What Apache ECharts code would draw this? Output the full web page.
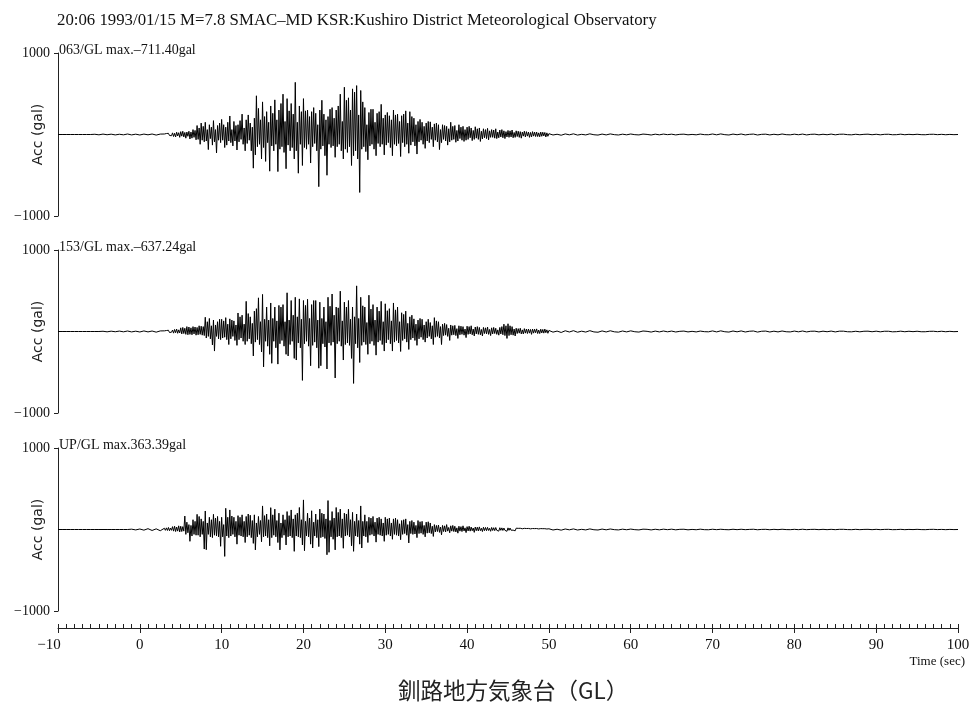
<!DOCTYPE html>
<html><head><meta charset="utf-8">
<script src="https://cdn.jsdelivr.net/npm/echarts@6/dist/echarts.min.js"></script>
<style>html,body{margin:0;padding:0;background:#fff}#c{width:971px;height:704px}</style>
</head><body><div id="c"></div>
<script>
// ---- data (gal) ----
const PRE_START = -10, PRE_STEP = 0.5;     // -10 .. 2.5 s
const MAIN_START = 3, MAIN_STEP = 0.125;   // 3 .. 49.875 s
const TAIL_START = 50, TAIL_STEP = 0.5;    // 50 .. 100 s

const panelTitles = ['063/GL max.\u2013711.40gal', '153/GL max.\u2013637.24gal', 'UP/GL max.363.39gal'];
const yTicks = [-1000, 1000];
const xTickLabels = [-10, 0, 10, 20, 30, 40, 50, 60, 70, 80, 90, 100];

const ch063Pre = [0,0,0,0,0,0,0,0,0,3,-4,5,-3,4,-5,3,-4,6,-5,4,-6,5,-4,6,-7,5];
const ch063Main = [
6,-10,12,-8,14,-12,10,-15,  20,-25,15,-30,28,-18,22,-35,  35,-20,40,-30,25,-45,30,-22,
40,-55,30,-45,60,-35,50,-65,  110,-60,80,-120,140,-70,100,-90,  150,-80,60,-185,120,-50,90,-130,
170,-90,60,-227,110,-70,140,-100,  185,-70,120,-160,90,-130,150,-80,  227,-100,60,-140,160,-80,110,-190,
120,-90,170,-60,250,-120,80,-200,  180,-110,240,-70,140,-200,90,-413,  200,-250,475,-150,320,-120,180,-300,
400,-160,220,-330,280,-100,150,-450,  350,-140,260,-200,425,-120,180,-455,  300,-180,380,-150,495,-220,160,-420,
440,-130,290,-200,380,-160,250,-300,  640,-200,150,-475,350,-120,280,-380,  440,-160,290,-180,300,-120,220,-350,
280,-150,330,-110,260,-200,120,-640,  300,-180,420,-140,250,-260,180,-500,  220,-120,310,-160,330,-140,200,-280,
300,-150,350,-120,495,-200,160,-300,  580,-180,420,-220,450,-150,300,-380,  560,-260,520,-200,600,-300,240,-711,
540,-180,400,-150,330,-210,120,-310,  270,-140,310,-120,310,-180,150,-260,  260,-110,280,-150,370,-120,200,-250,
240,-130,270,-100,230,-160,180,-260,  300,-120,240,-140,250,-110,160,-270,  230,-100,250,-150,290,-120,140,-230,
280,-130,220,-90,200,-140,120,-240,  160,-90,185,-70,150,-120,100,-170,  140,-80,160,-100,155,-60,90,-150,
130,-70,140,-90,120,-185,60,-100,  120,-60,110,-80,100,-130,70,-90,  150,-70,100,-60,110,-95,50,-80,
120,-50,90,-70,100,-85,60,-70,  90,-60,100,-40,80,-75,50,-60,  95,-45,70,-60,80,-85,40,-55,
70,-40,60,-50,75,-65,45,-35,  60,-35,55,-45,70,-50,30,-40,  55,-30,60,-40,45,-50,35,-30,
50,-35,45,-30,55,-40,25,-35,  45,-25,40,-35,35,-45,30,-20,  40,-30,35,-20,30,-35,25,-30,
35,-20,30,-25,30,-25,20,-28,  30,-22,28,-18,25,-30,20,-22];
const ch063Tail = [
10,-6,3,-9,7,-4,8,-7,2,-5,  8,-3,-7,5,-5,7,-2,-6,4,-4,
6,-2,-5,5,1,-6,4,-4,5,-2,  4,-5,2,4,-4,1,-4,5,-2,-3,
6,-4,7,-2,-6,5,-3,6,-5,2,  5,-6,2,4,-5,3,-4,6,-2,-4,
4,-3,5,-5,2,4,-4,3,-3,5,  -4,3,4,-2,-4,3,-3,2,4,-3,
3,-4,2,3,-3,-2,4,-3,2,-2,  3,-2,-3,2,3,-2,2,-3,1,-2, 0];

const ch153Pre = [0,0,0,0,0,0,0,0,0,0,0,3,-4,4,-3,5,-4,6,-5,4,-6,7,-5,6,-8,7];
const ch153Main = [
8,-10,12,-8,15,-12,10,-9,  18,-20,25,-15,30,-22,20,-18,  45,-30,50,-25,40,-35,60,-40,
55,-35,45,-40,60,-30,55,-45,  50,-40,70,-35,65,-45,60,-50,  175,-80,120,-60,160,-90,70,-165,
140,-240,80,-60,120,-90,150,-100,  150,-80,130,-70,170,-100,90,-160,  155,-90,140,-60,130,-110,80,-170,
227,-100,180,-80,200,-120,90,-160,  370,-120,220,-90,180,-150,100,-300,  250,-130,280,-100,413,-160,120,-250,
455,-434,150,-120,300,-180,140,-280,  350,-390,160,-120,300,-200,130,-400,  320,-150,300,-110,330,-180,120,-280,
475,-300,140,-160,380,-120,200,-330,  420,-350,180,-140,400,-200,150,-600,  380,-150,320,-120,395,-180,160,-420,
330,-170,380,-130,380,-200,140,-450,  360,-420,160,-150,300,-190,120,-460,  420,-140,310,-170,460,-130,200,-570,
300,-150,290,-120,495,-180,130,-350,  360,-160,300,-140,380,-170,150,-330,  300,-637,180,-150,560,-200,160,-380,
420,-170,315,-130,300,-160,110,-280,  445,-150,275,-120,330,-170,140,-290,  300,-130,250,-110,370,-160,120,-240,
340,-140,255,-100,280,-150,130,-240,  350,-130,265,-110,300,-140,120,-245,  230,-110,210,-90,250,-130,100,-220,
180,-100,200,-80,155,-110,90,-170,  140,-90,160,-70,150,-100,80,-130,  120,-80,150,-60,110,-90,70,-160,
170,-70,130,-60,120,-80,60,-160,  90,-50,100,-45,85,-60,40,-110,  80,-45,70,-40,75,-50,35,-85,
70,-40,65,-35,60,-45,30,-75,  65,-35,60,-30,70,-40,30,-55,  55,-30,60,-35,50,-40,25,-55,
50,-25,45,-30,55,-35,25,-50,  45,-30,50,-25,40,-35,20,-45,  50,-30,60,-40,90,-50,70,-85,
95,-50,70,-40,60,-45,30,-55,  40,-25,35,-20,40,-30,20,-30,  35,-20,30,-25,30,-20,25,-35,
30,-20,28,-15,32,-25,18,-25,  28,-18,25,-20,30,-15,20,-22];
const ch153Tail = [
13,-8,5,-12,9,-6,10,-9,4,-7,  10,-5,-9,7,-6,9,-4,-8,6,-5,
8,-3,-7,6,2,-7,5,-5,6,-4,  5,-6,2,5,-5,2,-5,5,-2,-4,
7,-5,8,-3,-7,6,-4,7,-6,3,  6,-7,3,5,-6,4,-5,6,-3,-5,
5,-4,6,-5,3,4,-5,4,-3,5,  -5,4,4,-3,-4,3,-4,3,4,-3,
4,-4,3,3,-4,-2,4,-3,3,-2,  3,-3,-3,2,3,-2,3,-3,2,-2, 0];

const chUPPre = [0,0,0,0,0,0,0,0,0,0,0,0,0,0,0,0,0,0,4,-5,6,-8,10,-12,8,-15];
const chUPMain = [
15,-10,20,-12,25,-15,18,-10,  35,-20,40,-25,30,-20,45,-30,  40,-25,35,-20,165,-60,90,-40,
60,-145,50,-80,120,-60,100,-70,  186,-70,160,-90,130,-60,100,-240,  227,-248,80,-60,150,-90,120,-100,
186,-70,140,-80,160,-90,100,-206,  150,-90,60,-330,260,-80,150,-100,  240,-80,165,-60,150,-90,100,-180,
170,-70,150,-80,180,-90,100,-160,  160,-90,190,-70,175,-100,110,-170,  180,-250,80,-90,160,-60,110,-150,
289,-90,170,-80,190,-100,120,-200,  268,-100,180,-70,250,-90,110,-160,  200,-250,80,-100,180,-70,120,-190,
220,-90,170,-80,240,-100,130,-268,  180,-80,200,-90,270,-100,120,-190,  363,-260,100,-80,200,-90,140,-180,
230,-227,90,-80,190,-100,120,-210,  250,-100,200,-90,190,-110,130,-310,  355,-280,110,-90,220,-120,140,-250,
270,-90,210,-80,250,-100,130,-230,  200,-80,190,-70,248,-90,120,-200,  210,-268,100,-80,190,-90,110,-180,
289,-227,100,-80,180,-90,100,-160,  150,-70,140,-60,160,-80,90,-155,  140,-60,150,-70,130,-80,80,-145,
150,-70,130,-60,140,-80,80,-120,  130,-60,140,-70,120,-80,70,-125,  110,-60,120,-50,130,-70,60,-165,
100,-50,110,-60,90,-55,50,-100,  110,-50,95,-45,100,-60,50,-90,  90,-45,95,-40,80,-50,40,-85,
60,-30,50,-25,55,-35,30,-65,  50,-25,45,-30,60,-20,25,-40,  45,-20,50,-25,40,-30,20,-45,
40,-20,35,-25,45,-18,20,-38,  35,-18,40,-20,30,-15,18,-35,  30,-15,28,-18,32,-14,15,-25,
28,-14,25,-15,26,-12,14,-22,  25,-12,22,-14,24,-10,12,-20,  22,-10,20,-12,18,-10,12,-22,
20,-10,18,-9,15,-8,10,-16,  16,-8,14,-7,15,-6,9,-12,  14,-7,12,-6,13,-5,8,-11,
12,-6,11,-5,12,-5,7,-10,  11,-5,10,-5,10,-4,6,-9];
const chUPTail = [
9,-6,3,-8,6,-4,7,-6,2,-5,  7,-3,-6,5,-4,6,-2,-5,4,-3,
5,-2,-5,4,2,-5,3,-4,4,-2,  4,-4,2,3,-4,1,-3,4,-2,-3,
3,-2,3,-1,-3,3,-2,3,-2,1,  3,-3,1,2,-3,2,-2,3,-1,-2,
2,-2,3,-2,1,2,-2,2,-2,2,  -2,2,2,-1,-2,2,-2,1,2,-2,
2,-2,1,2,-2,-1,2,-2,1,-1,  2,-1,-2,1,2,-1,1,-2,1,-1, 0];

// ---- build [time, value] pairs from the segments ----
function build(pre, main, tail) {
  const out = [];
  pre.forEach((v, i) => out.push([PRE_START + i * PRE_STEP, v]));
  main.forEach((v, i) => out.push([MAIN_START + i * MAIN_STEP, v]));
  tail.forEach((v, i) => out.push([TAIL_START + i * TAIL_STEP, v]));
  return out;
}
const seriesData = [
  build(ch063Pre, ch063Main, ch063Tail),
  build(ch153Pre, ch153Main, ch153Tail),
  build(chUPPre, chUPMain, chUPTail)
];

const SERIF = '"Liberation Serif","DejaVu Serif",serif';
const gridTops = [53, 250, 448];
const GRID_H = 163;
const fmtMinus = v => String(v).replace('-', '\u2212');

const grids = gridTops.map(t => ({left: 58, width: 900, top: t, height: GRID_H,
  containLabel: false, outerBoundsMode: 'none'}));
const xAxes = [0, 1].map(i => ({
  gridIndex: i, type: 'value', min: -10, max: 100, show: false
}));
xAxes.push({
  gridIndex: 2, type: 'value', position: 'bottom', offset: 17, min: -10, max: 100, interval: 10,
  axisLine: {show: true, onZero: false, lineStyle: {color: '#222', width: 1}},
  axisTick: {show: true, length: 5, lineStyle: {color: '#222'}},
  axisLabel: {show: true, margin: 10, fontFamily: SERIF, fontSize: 15, color: '#111',
    customValues: xTickLabels,
    formatter: v => v < 0 ? '{l|' + fmtMinus(v) + '}' : fmtMinus(v),
    rich: {l: {fontFamily: SERIF, fontSize: 15, color: '#111', padding: [0, 18, 0, 0]}}},
  splitLine: {show: false}
});
xAxes.push({
  gridIndex: 2, type: 'value', position: 'bottom', offset: 17, min: -10, max: 100, interval: 10,
  axisLine: {show: false, onZero: false},
  axisTick: {show: true, inside: true, length: 4, lineStyle: {color: '#222'}},
  minorTick: {show: true, splitNumber: 10, length: 4, lineStyle: {color: '#222'}},
  axisLabel: {show: false}, splitLine: {show: false}
});
const yAxes = [0, 1, 2].map(i => ({
  gridIndex: i, type: 'value', min: -1000, max: 1000, interval: 1000,
  name: 'Acc (gal)', nameLocation: 'middle', nameGap: 13, nameMoveOverlap: false,
  nameTextStyle: {fontFamily: '"DejaVu Sans",sans-serif', fontSize: 14, color: '#222'},
  axisLine: {show: true, onZero: false, lineStyle: {color: '#222', width: 1}},
  axisTick: {show: true, length: 4, customValues: yTicks, lineStyle: {color: '#222'}},
  axisLabel: {show: true, margin: 8, fontFamily: SERIF, fontSize: 14, color: '#111',
    customValues: yTicks, formatter: fmtMinus},
  splitLine: {show: false}
}));

const series = seriesData.map((d, i) => ({
  type: 'line', data: d, xAxisIndex: i, yAxisIndex: i,
  symbol: 'none', showSymbol: false, animation: false,
  lineStyle: {color: '#000', width: 1}
}));

const graphics = [
  {type: 'text', left: 57, top: 12, style: {text: '20:06 1993/01/15 M=7.8 SMAC\u2013MD KSR:Kushiro District Meteorological Observatory',
    font: '16.8px ' + SERIF, fill: '#111'}}
];
panelTitles.forEach((t, i) => graphics.push({type: 'text', left: 59, top: gridTops[i] - 10,
  style: {text: t, font: '14px ' + SERIF, fill: '#111'}}));
graphics.push({type: 'text', right: 6, top: 655, style: {text: 'Time (sec)', font: '13px ' + SERIF, fill: '#111'}});
graphics.push({type: 'text', left: 398, top: 679, style: {text: '釧路地方気象台（GL）',
  font: '22.5px "Noto Sans CJK JP",sans-serif', fill: '#222'}});

const chart = echarts.init(document.getElementById('c'), null, {renderer: 'canvas'});
chart.setOption({
  animation: false,
  backgroundColor: '#fff',
  grid: grids, xAxis: xAxes, yAxis: yAxes, series: series, graphic: graphics
});
</script></body></html>
